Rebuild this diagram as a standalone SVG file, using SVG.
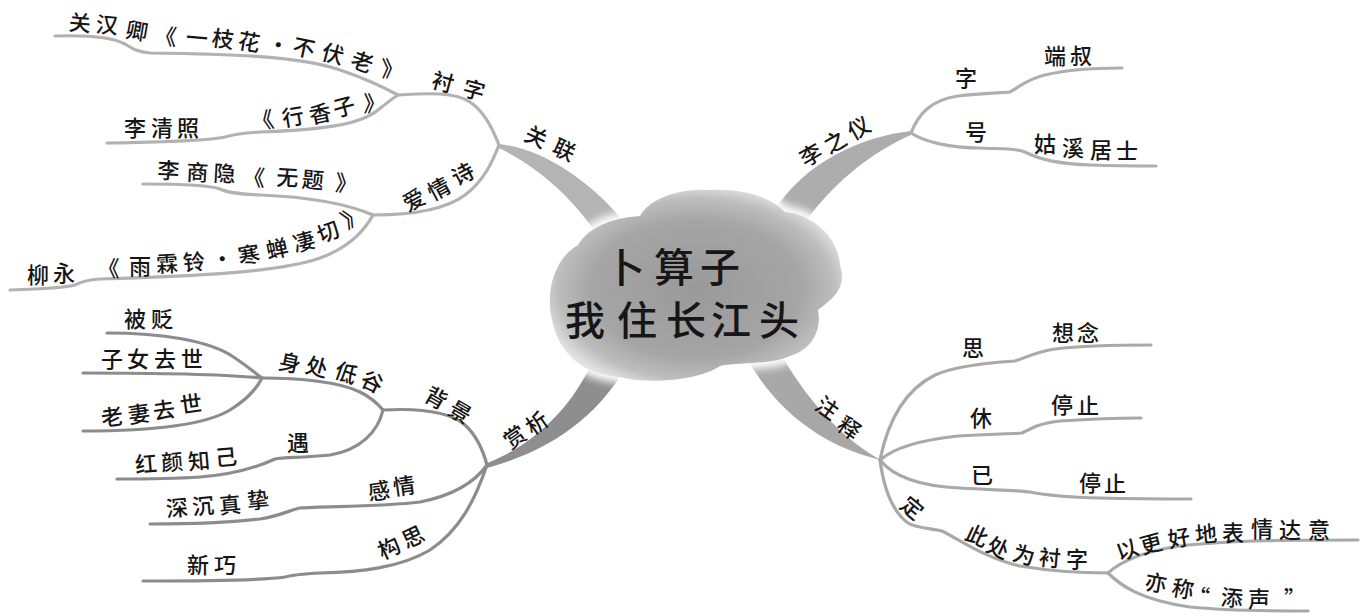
<svg xmlns="http://www.w3.org/2000/svg" width="1362" height="616" viewBox="0 0 1362 616">
<defs>
<radialGradient id="cg" cx="50%" cy="52%" r="55%">
<stop offset="0" stop-color="#9a9a9a"/>
<stop offset="0.65" stop-color="#a5a5a5"/>
<stop offset="0.86" stop-color="#bdbdbd"/>
<stop offset="1" stop-color="#e4e4e4"/>
</radialGradient>
<filter id="halo" x="-20%" y="-20%" width="140%" height="140%"><feGaussianBlur stdDeviation="4"/></filter>
</defs>
<style>
.ln{fill:none;stroke-linecap:round;stroke-linejoin:round;stroke-width:3.2}
.tl{stroke:#b2b2b2}
.bl{stroke:#8c8c8c}
.tr{stroke:#afafaf}
.br{stroke:#a9a9a9}
.t{font-family:"Noto Sans CJK SC","Noto Sans CJK JP",sans-serif;font-size:22px;font-weight:500;fill:#161616}
.c{font-size:40px}
</style>
<rect width="1362" height="616" fill="#fff"/>
<g id="connectors">
<path d="M499,144 C540,148 588,178 624,222 L598,236 C572,196 536,166 499,148 Z" fill="#b4b4b4"/>
<path d="M911,131 C865,136 805,160 772,214 L800,230 C830,184 872,152 911,135 Z" fill="#adadad"/>
<path d="M487,463 C532,446 572,408 592,362 L624,370 C600,410 560,448 487,468 Z" fill="#8e8e8e"/>
<path d="M748,360 C775,408 820,446 881,460 C848,442 812,408 782,356 Z" fill="#a8a8a8"/>
<path class="ln tl" d="M55,36 C85,35 110,36 125,44 C133,49 138,52 150,53 C230,54 300,56 340,70 C370,80 385,88 398,95"/>
<path class="ln tl" d="M107,143 C150,142 200,142 225,137 C232,135 240,133 260,132 C320,130 360,125 378,110 C388,102 393,98 398,95"/>
<path class="ln tl" d="M398,95 C430,93 455,92 470,102 C485,112 493,130 499,145"/>
<path class="ln tl" d="M373,215 C410,215 445,210 465,195 C485,180 493,160 499,145"/>
<path class="ln tl" d="M143,184 C180,184 210,185 220,189 C228,193 240,194 260,195 C310,197 345,203 373,215"/>
<path class="ln tl" d="M10,290 C40,289 65,288 75,285 C80,282 85,280 100,279 C200,276 280,272 320,258 C345,249 362,235 373,215"/>
<path class="ln tr" d="M911,133 C918,115 930,100 958,96 C980,93 1000,93 1010,92 C1020,86 1030,78 1045,75 C1065,70 1090,68 1122,68"/>
<path class="ln tr" d="M911,133 C925,142 950,148 980,148 C1000,149 1015,148 1025,152 C1040,160 1060,164 1090,165 C1120,166 1140,166 1156,166"/>
<path class="ln bl" d="M107,333 C160,333 210,340 235,358 C250,368 256,374 262,378"/>
<path class="ln bl" d="M83,373 C150,373 220,374 262,378"/>
<path class="ln bl" d="M83,431 C150,431 205,425 230,410 C248,399 257,388 262,378"/>
<path class="ln bl" d="M262,378 C300,378 340,382 360,392 C372,398 378,404 383,410"/>
<path class="ln bl" d="M383,410 C378,432 360,450 330,455 C300,458 285,457 275,459 C262,465 240,474 200,477 C170,479 140,479 117,479"/>
<path class="ln bl" d="M383,410 C420,408 450,412 465,425 C477,436 483,450 487,465"/>
<path class="ln bl" d="M487,465 C475,482 455,495 420,502 C380,507 320,506 300,508 C290,510 280,516 260,519 C220,524 180,524 150,524"/>
<path class="ln bl" d="M487,465 C475,500 460,530 430,550 C400,568 360,572 320,573 C300,574 292,575 285,577 C265,580 220,581 143,581"/>
<path class="ln br" d="M880,460 C888,420 905,390 935,375 C955,366 985,363 1015,361 C1025,358 1035,352 1055,349 C1080,346 1110,345 1151,345"/>
<path class="ln br" d="M880,460 C895,447 920,440 958,436 C990,434 1010,434 1022,433 C1032,428 1040,423 1060,421 C1090,419 1115,418 1141,418"/>
<path class="ln br" d="M880,460 C892,475 915,486 960,488 C990,490 1015,490 1030,492 C1045,495 1060,497 1100,498 C1140,499 1170,499 1191,499"/>
<path class="ln br" d="M880,460 C884,490 893,512 908,523 C916,528 930,528 942,531 C960,540 985,558 1020,566 C1050,571 1080,573 1108,573"/>
<path class="ln br" d="M1108,573 C1120,562 1140,552 1180,546 C1230,540 1300,540 1358,540"/>
<path class="ln br" d="M1108,573 C1120,585 1140,600 1190,607 C1230,611 1270,611 1308,611"/>
</g>
<g id="n-center">
<path d="M552,320 C545,290 555,258 578,245 C588,228 610,218 640,216 C650,198 680,188 710,190 C740,188 770,196 785,212 C810,214 838,235 840,265 C848,290 830,300 818,310 C822,330 812,350 790,356 C770,365 740,362 720,366 C700,380 650,385 620,377 C590,375 560,360 552,320 Z" fill="#fff" stroke="#fff" stroke-width="12" filter="url(#halo)"/>
<path d="M552,320 C545,290 555,258 578,245 C588,228 610,218 640,216 C650,198 680,188 710,190 C740,188 770,196 785,212 C810,214 838,235 840,265 C848,290 830,300 818,310 C822,330 812,350 790,356 C770,365 740,362 720,366 C700,380 650,385 620,377 C590,375 560,360 552,320 Z" fill="url(#cg)"/>
<text class="t c" x="605 654 700" y="282">卜算子</text>
<text class="t c" x="565 617 666 711 759" y="335">我住长江头</text>
</g>
<g id="n-guanlian"><text class="t" x="522.7 550.7" y="139.6 152.6" rotate="25">关联</text></g>
<g id="n-chenzi"><text class="t" x="430.3 461.3" y="86.9 94.9" rotate="15">衬字</text></g>
<g id="n-aiqingshi"><text class="t" x="408 433 457" y="212.2 201.2 186.2" rotate="-28">爱情诗</text></g>
<g id="n-guanhanqing"><text class="t" x="68.3 95.3 124.8 154 185.3 211 236.8 266 291.6 320.3 348.9 381.4" y="30 32 37 43.6 45 45.4 48 51 53.5 58.9 65.8 76" rotate="5 5 10 5 5 8 10 10 12 15 20 0">关汉卿《一枝花·不伏老》</text></g>
<g id="n-liqingzhao"><text class="t" x="124 151 177 253.2 283.6 310.9 335.4 363.4" y="136 136 136 130.6 126.8 124.1 117.6 111" rotate="0 0 0 -10 -10 -12 -15 0">李清照《行香子》</text></g>
<g id="n-lishangyin"><text class="t" x="157 186 213 242.5 276 301.3 334.7" y="178 180 181 185 185 187 190.4" rotate="3 3 3 3 3 5 5">李商隐《无题》</text></g>
<g id="n-liuyong"><text class="t" x="27 53 97.6 129 156.4 183.7 212.5 239.6 267.9 295.4 320.4 347.3" y="283 281 276 274 272.6 270.9 268.5 264.8 259.1 252.6 243.3 229.2" rotate="0 0 0 0 -3 -5 -8 -10 -12 -15 -20 -30">柳永《雨霖铃·寒蝉凄切》</text></g>
<g id="n-lizhiyi"><text class="t" x="805.5 829.5 853.5" y="167.4 154.4 140.4" rotate="-30">李之仪</text></g>
<g id="n-zi"><text class="t" x="955" y="86">字</text></g>
<g id="n-duanshu"><text class="t" x="1044 1070" y="64">端叔</text></g>
<g id="n-hao"><text class="t" x="965" y="140">号</text></g>
<g id="n-guxi"><text class="t" x="1034 1062 1090 1116" y="152 156 158 159">姑溪居士</text></g>
<g id="n-shangxi"><text class="t" x="510.6 532.6" y="449.9 435.9" rotate="-35">赏析</text></g>
<g id="n-beijing"><text class="t" x="422.5 446.5" y="399.4 413.4" rotate="30">背景</text></g>
<g id="n-shenchu"><text class="t" x="277.6 304.3 332.9 358.7" y="368.5 371.9 376.8 384.6" rotate="12 15 20 25">身处低谷</text></g>
<g id="n-beibian"><text class="t" x="124 151" y="327">被贬</text></g>
<g id="n-zinv"><text class="t" x="101 127 154 181" y="367">子女去世</text></g>
<g id="n-laoqi"><text class="t" x="102.2 129.2 154.2 181.2" y="426.5 423.5 419.5 413.5" rotate="-8">老妻去世</text></g>
<g id="n-yu"><text class="t" x="287" y="451">遇</text></g>
<g id="n-hongyan"><text class="t" x="135.7 161.7 188.7 215.7" y="472.9 470.9 469.9 465.9" rotate="-5">红颜知己</text></g>
<g id="n-ganqing"><text class="t" x="369.2 394.2" y="500.5 495.5" rotate="-8">感情</text></g>
<g id="n-shenchen"><text class="t" x="166.7 192.7 219.7 247.7" y="516.9 514.9 513.9 508.9" rotate="-5">深沉真挚</text></g>
<g id="n-gousi"><text class="t" x="382.4 406.4" y="559.9 548.9" rotate="-25">构思</text></g>
<g id="n-xinqiao"><text class="t" x="187 214" y="573">新巧</text></g>
<g id="n-zhushi"><text class="t" x="813.4 835.4" y="408.2 428.2" rotate="35">注释</text></g>
<g id="n-si"><text class="t" x="962" y="356">思</text></g>
<g id="n-xiangnian"><text class="t" x="1052 1077" y="341">想念</text></g>
<g id="n-xiu"><text class="t" x="970" y="426">休</text></g>
<g id="n-tingzhi1"><text class="t" x="1051 1077" y="413 414">停止</text></g>
<g id="n-yi"><text class="t" x="971" y="483">已</text></g>
<g id="n-tingzhi2"><text class="t" x="1079 1104" y="491 492">停止</text></g>
<g id="n-ding"><text class="t" x="898.4" y="507.1" rotate="40">定</text></g>
<g id="n-cichu"><text class="t" x="963.7 984.7 1011.3 1038.3 1066" y="538.6 550.6 559.9 565 567" rotate="25 25 15 5 0">此处为衬字</text></g>
<g id="n-yigeng"><text class="t" x="1119.4 1142.4 1169.6 1195.7 1222 1251 1279 1308" y="561.3 554.6 548 542.9 541 537 538 538" rotate="-20 -15 -10 -5 0">以更好地表情达意</text></g>
<g id="n-yicheng"><text class="t" x="1143.8 1170.8 1187 1220.3 1248 1284" y="589 595 604 605 607 607" rotate="10 10 5 5 0 0">亦称“添声”</text></g>
</svg>
